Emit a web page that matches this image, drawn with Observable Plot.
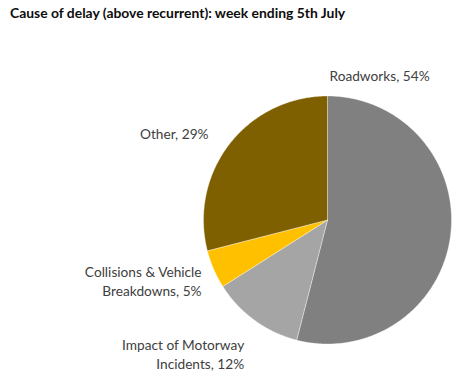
<!DOCTYPE html>
<html>
<head>
<meta charset="utf-8">
<script src="https://cdn.jsdelivr.net/npm/d3@7"></script>
<script src="https://cdn.jsdelivr.net/npm/@observablehq/plot@0.6"></script>
<style>
  body { margin: 0; background: #fff; }
  #wrap { position: relative; width: 459px; height: 379px; overflow: hidden; }
  #title { position: absolute; left: 10px; top: 4px; font: bold 13.9px Lato, sans-serif; color: #0d0d0d; white-space: nowrap; }
  #chart { position: absolute; left: 0; top: 30px; }
</style>
</head>
<body>
<div id="wrap">
  <div id="title">Cause of delay (above recurrent): week ending 5th July</div>
  <div id="chart"></div>
</div>
<script>
const categories = ["Roadworks", "Impact of Motorway Incidents", "Collisions & Vehicle Breakdowns", "Other"];
const values = [54, 12, 5, 29];
const labels = ["Roadworks, 54%", "Impact of Motorway\nIncidents, 12%", "Collisions & Vehicle\nBreakdowns, 5%", "Other, 29%"];
const colors = ["#808080", "#a5a5a5", "#ffc000", "#7f6000"];

const arcs = d3.pie().sort(null).value(d => d)(values);

// Build slice polygons in unit-circle coordinates (angle 0 = top, clockwise)
const slices = [];
arcs.forEach((a, i) => {
  const n = Math.max(4, Math.ceil((a.endAngle - a.startAngle) / 0.01));
  slices.push({cat: categories[i], x: 0, y: 0});
  for (let k = 0; k <= n; k++) {
    const t = a.startAngle + (a.endAngle - a.startAngle) * k / n;
    slices.push({cat: categories[i], x: Math.sin(t), y: Math.cos(t)});
  }
  slices.push({cat: categories[i], x: 0, y: 0});
});

// Label anchors derived from each slice's angles (Roadworks label sits at the slice's start)
const labelRadius = [1.173, 1.271, 1.127, 1.19];
const labelShiftDeg = [0, -4.1, -2.3, -1.5];
const labelData = arcs.map((a, i) => {
  const m = (i === 0 ? a.startAngle : (a.startAngle + a.endAngle) / 2) + labelShiftDeg[i] * Math.PI / 180;
  return {cat: categories[i], label: labels[i], x: Math.sin(m) * labelRadius[i], y: Math.cos(m) * labelRadius[i]};
});

const plot = Plot.plot({
  width: 459,
  height: 349,
  marginLeft: 203,
  marginRight: 8,
  marginTop: 65.5,
  marginBottom: 35.5,
  x: {domain: [-1, 1], axis: null},
  y: {domain: [-1, 1], axis: null},
  color: {domain: categories, range: colors},
  style: {fontFamily: "Lato, sans-serif", fontSize: "13.7px", background: "transparent", overflow: "visible"},
  marks: [
    Plot.line(slices, {x: "x", y: "y", z: "cat", fill: "cat", stroke: "#ffffff", strokeWidth: 0.6, strokeOpacity: 0.6, curve: "linear"}),
    Plot.text(labelData, {filter: d => d.cat === "Roadworks", x: "x", y: "y", text: "label", fill: "#404040",
      lineHeight: 1.36, textAnchor: "start", dx: 2}),
    Plot.text(labelData, {filter: d => d.cat !== "Roadworks", x: "x", y: "y", text: "label", fill: "#404040",
      lineHeight: 1.36, textAnchor: "end"})
  ]
});
document.getElementById("chart").appendChild(plot);
</script>
</body>
</html>
